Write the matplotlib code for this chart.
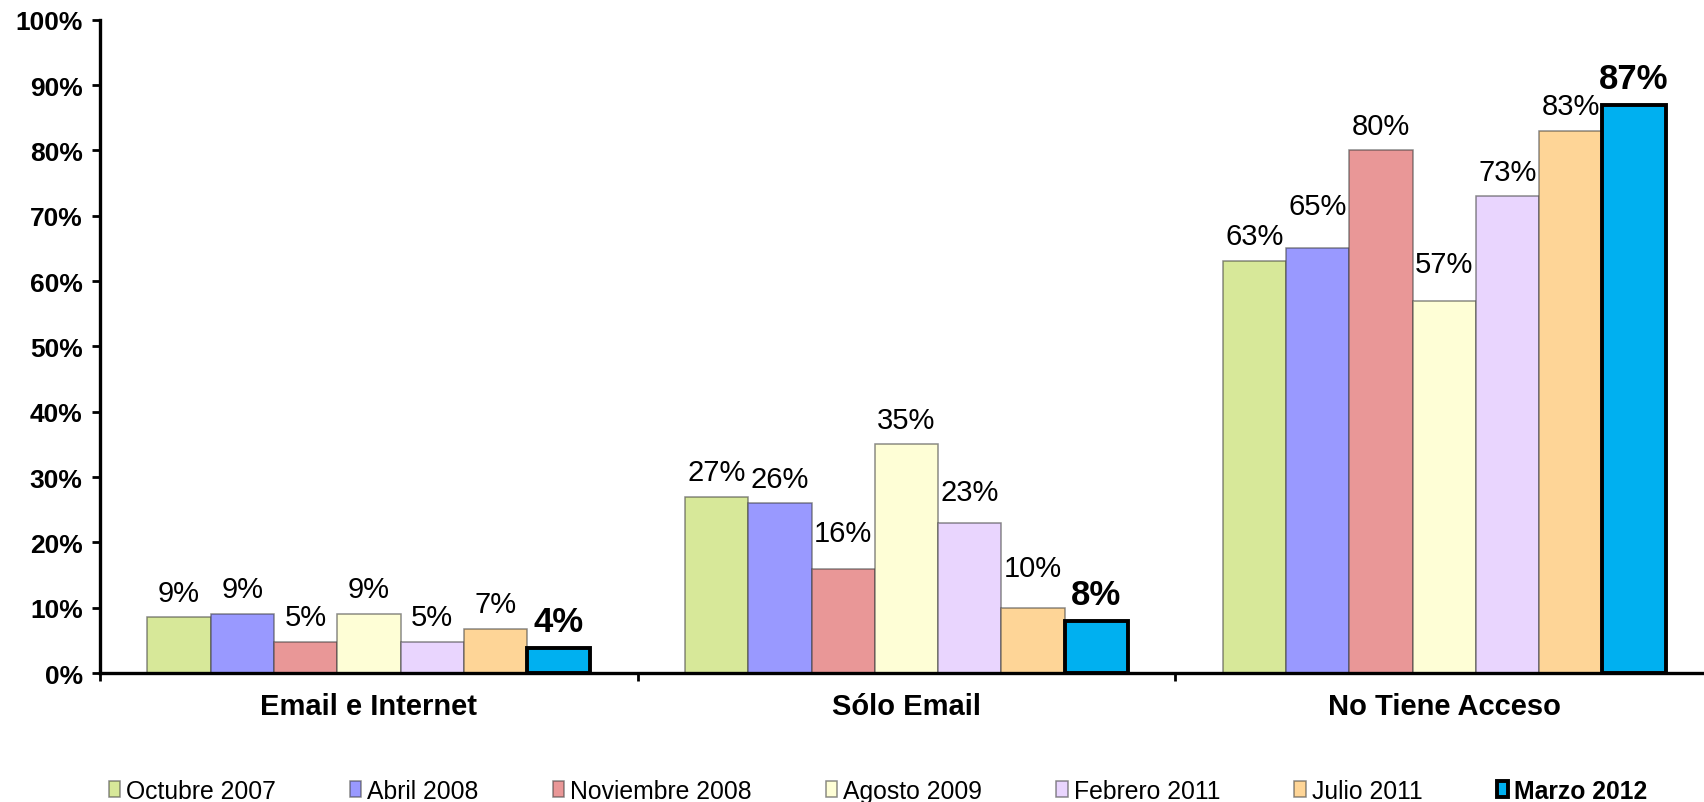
import matplotlib.pyplot as plt
import numpy as np

plt.rcParams['font.family'] = ['Liberation Sans', 'DejaVu Sans']

categories = ['Email e Internet', 'Sólo Email', 'No Tiene Acceso']
periods = ['Octubre 2007', 'Abril 2008', 'Noviembre 2008', 'Agosto 2009',
           'Febrero 2011', 'Julio 2011', 'Marzo 2012']

# percentage of respondents per period, one value per category
oct_2007 = [8.6, 27, 63]
abr_2008 = [9.1, 26, 65]
nov_2008 = [4.8, 16, 80]
ago_2009 = [9.1, 35, 57]
feb_2011 = [4.8, 23, 73]
jul_2011 = [6.8, 10, 83]
mar_2012 = [3.8, 8, 87]
values = [oct_2007, abr_2008, nov_2008, ago_2009, feb_2011, jul_2011, mar_2012]

colors = ['#D7E899', '#9999FF', '#E99797', '#FEFED6', '#E9D5FE', '#FED597', '#00B0F0']

fig = plt.figure(figsize=(17.04, 8.03), dpi=100)
ax = fig.add_axes([0.0587, 0.1606, 0.9466, 0.8136])

x = np.arange(len(categories))
width = 0.1177
shift = (np.arange(len(periods)) - 3) * width

# a few labels sit a bit higher than the rest (points)
lift = {(1, 2): 13, (2, 1): 8, (5, 1): 11, (3, 2): 9, (4, 1): 5, (0, 2): 1}

for i, (name, vals, col) in enumerate(zip(periods, values, colors)):
    last = i == len(periods) - 1
    ax.bar(x + shift[i], vals, width, color=col,
           edgecolor='black' if last else (0.25, 0.25, 0.25, 0.6),
           linewidth=2.8 if last else 1.1, label=name, zorder=3 if last else 2)
    for j, v in enumerate(vals):
        dy = (19 if last else 17.5) + lift.get((i, j), 0)
        ax.annotate(f'{v:.0f}%', (x[j] + shift[i], v), xytext=(0, dy),
                    textcoords='offset points', ha='center', va='center',
                    fontsize=25 if last else 21,
                    fontweight='bold' if last else 'normal')

ax.set_xlim(-0.5, 2.5)
ax.set_ylim(0, 100)
ax.set_yticks(range(0, 101, 10))
ax.set_yticklabels([f'{t}%' for t in range(0, 101, 10)], fontsize=19, fontweight='bold')
ax.set_xticks(x)
ax.set_xticklabels(categories, fontsize=21, fontweight='bold')
ax.set_xticks([-0.5, 0.5, 1.5, 2.5], minor=True)
ax.tick_params(axis='x', which='major', length=0, pad=14)
ax.tick_params(axis='x', which='minor', length=5.5, width=2)
ax.tick_params(axis='y', length=5.5, width=2, pad=7)

for side in ['top', 'right']:
    ax.spines[side].set_visible(False)
for side in ['left', 'bottom']:
    ax.spines[side].set_linewidth(2.4)

leg = fig.legend(loc='center', bbox_to_anchor=(878 / 1704, 0.0137), ncol=7,
                 frameon=False, fontsize=17.8, handlelength=0.45, handleheight=0.6,
                 handletextpad=0.25, columnspacing=3.0, borderaxespad=0, borderpad=0)
leg.get_texts()[-1].set_fontweight('bold')

fig.savefig('out.png', dpi=100)
